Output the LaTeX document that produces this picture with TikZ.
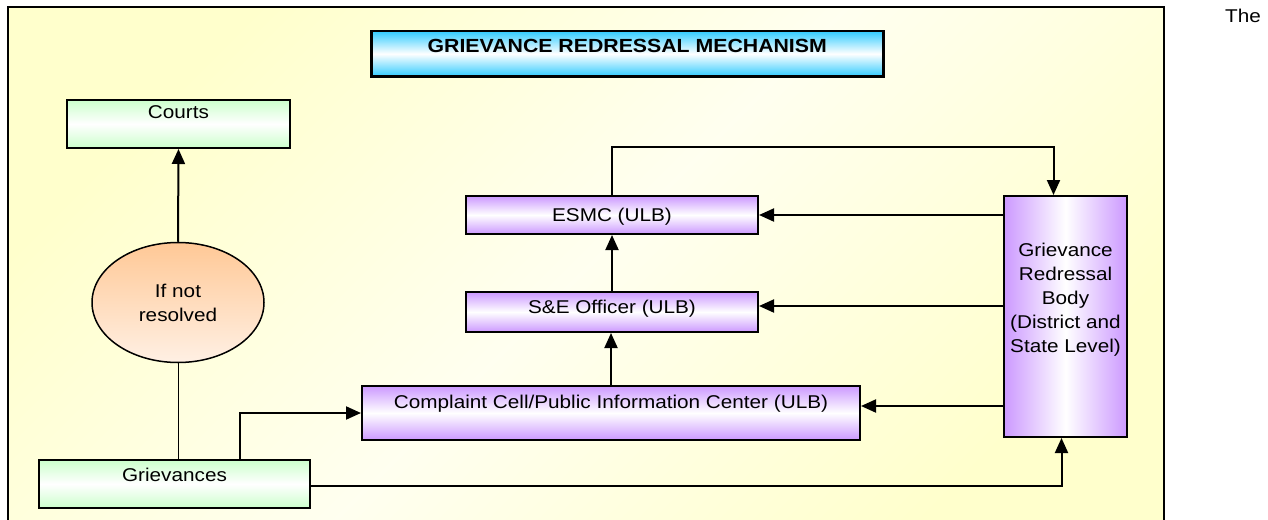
\documentclass[tikz,border=0pt]{standalone}
\usepackage{fontspec}
\setmainfont{Liberation Sans}[FakeStretch=1.12]
\usetikzlibrary{arrows.meta,shapes.geometric}
\definecolor{boxgreen}{RGB}{204,255,204}
\definecolor{boxlilac}{RGB}{204,153,255}
\definecolor{boxcyan}{RGB}{51,204,255}
\definecolor{boxpeach}{RGB}{255,200,150}
\definecolor{palepeach}{RGB}{255,240,228}
\definecolor{paleyellow}{RGB}{255,255,204}
\newcommand{\linew}{2pt}
\newcommand{\tip}{Triangle[length=15pt,width=13pt]}

\tikzset{
  box/.style={draw, line width=\linew, inner sep=0pt, anchor=north west},
  greenbox/.style={box, top color=boxgreen, bottom color=boxgreen, middle color=white},
  lilacbox/.style={box, top color=boxlilac, bottom color=boxlilac, middle color=white},
  conn/.style={line width=\linew, -{\tip}},
}

\begin{document}
\begin{tikzpicture}[x=1pt, y=-1pt, font=\fontsize{18.5}{24}\selectfont]
\useasboundingbox (0,0) rectangle (1268,519);
% frame
\draw[line width=\linew, top color=paleyellow, bottom color=paleyellow,
  middle color=white!70!paleyellow, shading angle=45] (8,7) rectangle (1164,530);
\node[anchor=base] (the) at (1243,22.5) {The};
% boxes
\node[box, top color=boxcyan, bottom color=boxcyan, middle color=white,
  line width=2.5pt, minimum width=512pt, minimum height=45pt,
  text height=21pt, text depth=24pt, font=\fontsize{19}{24}\selectfont\bfseries]
  (title) at (370,30) {GRIEVANCE REDRESSAL MECHANISM};
\node[greenbox, minimum width=223pt, minimum height=48pt, text height=18pt, text depth=30pt]
  (courts) at (66,99) {Courts};
\node[greenbox, minimum width=271pt, minimum height=48pt, text height=21pt, text depth=27pt]
  (grievances) at (38,459) {Grievances};
\node[lilacbox, minimum width=292pt, minimum height=38pt, text height=25pt, text depth=13pt]
  (esmc) at (465,195) {ESMC (ULB)};
\node[lilacbox, minimum width=292pt, minimum height=40pt, text height=21pt, text depth=19pt]
  (sne) at (465,291) {S\&E Officer (ULB)};
\node[lilacbox, minimum width=498pt, minimum height=54pt, text height=22pt, text depth=32pt]
  (complaint) at (361,385) {Complaint Cell/Public Information Center (ULB)};
\node[box, left color=boxlilac, right color=boxlilac, middle color=white,
  minimum width=123pt, minimum height=241pt, text height=60pt, text depth=181pt]
  (body) at (1003,195) {\begin{tabular}[t]{@{}c@{}}Grievance\\Redressal\\Body\\(District and\\State Level)\end{tabular}};
\node[draw, ellipse, line width=1.5pt, top color=boxpeach, bottom color=palepeach,
  minimum width=172pt, minimum height=120pt, align=center, inner sep=0pt]
  (ifnot) at (178,302.5) {If not\\resolved};
% connectors
\draw[conn] (ifnot.north) -- (courts.south);
\draw[line width=1pt] (ifnot.south) -- (ifnot.south |- grievances.north);
\draw[conn] ([xshift=65pt]grievances.north) |- (complaint.west);
\draw[conn] ([yshift=-2pt]grievances.east) -| ([xshift=-4pt]body.south);
\draw[conn] (complaint.north) -- (complaint.north |- sne.south);
\draw[conn] (sne.north) -- (esmc.south);
\draw[conn] (esmc.north) -- ++(0,-48) -| ([xshift=-12pt]body.north);
\draw[conn] (body.west |- esmc.east) -- (esmc.east);
\draw[conn] ([yshift=6pt]body.west |- sne.east) -- ([yshift=6pt]sne.east);
\draw[conn] ([yshift=7pt]body.west |- complaint.east) -- ([yshift=7pt]complaint.east);
\end{tikzpicture}
\end{document}
